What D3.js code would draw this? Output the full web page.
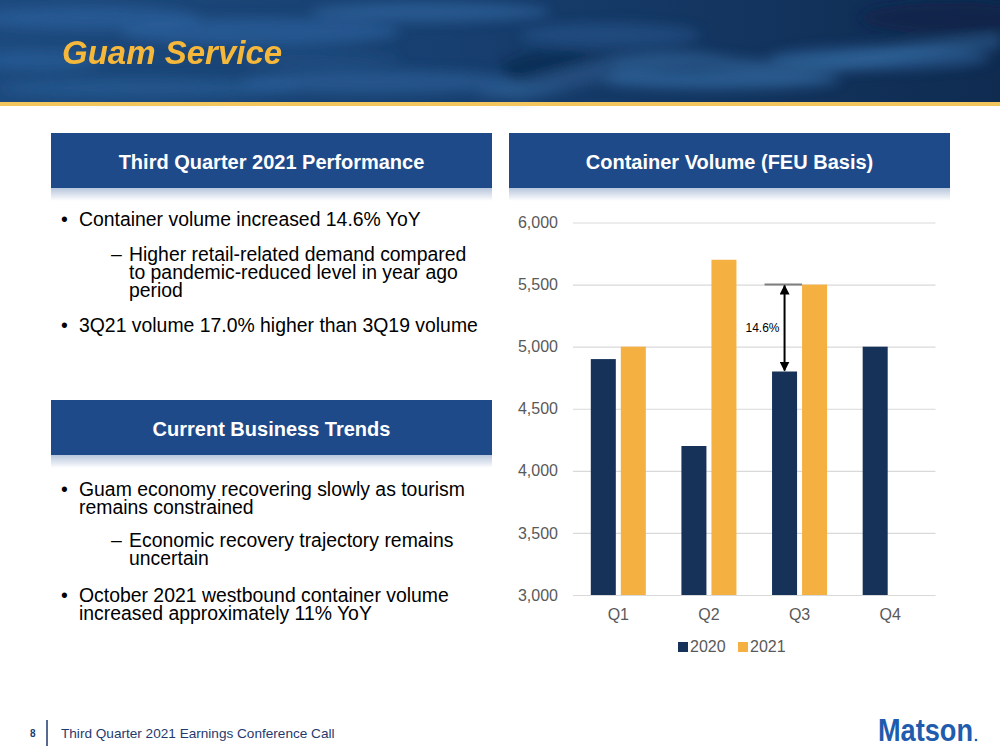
<!DOCTYPE html>
<html>
<head>
<meta charset="utf-8">
<script src="https://cdn.jsdelivr.net/npm/d3@7"></script>
<style>
  body { margin: 0; background: #fff; }
  svg { display: block; font-family: "Liberation Sans", Arial, sans-serif; }
</style>
</head>
<body>
<script>
// chart data
const quarters = ['Q1', 'Q2', 'Q3', 'Q4'];
const years = ['2020', '2021'];
const volume2020 = [4900, 4200, 4800, 5000];
const volume2021 = [5000, 5700, 5500, null];
const yTicks = [3000, 3500, 4000, 4500, 5000, 5500, 6000];
const growthLabel = '14.6%';   // Q3 2021 vs Q3 2020

// slide texts
const pageTitle = 'Guam Service';
const panelTitles = ['Third Quarter 2021 Performance', 'Container Volume (FEU Basis)', 'Current Business Trends'];
const perfLines = [
  { lvl: 0, lines: ['Container volume increased 14.6% YoY'] },
  { lvl: 1, lines: ['Higher retail-related demand compared', 'to pandemic-reduced level in year ago', 'period'] },
  { lvl: 0, lines: ['3Q21 volume 17.0% higher than 3Q19 volume'] }
];
const trendLines = [
  { lvl: 0, lines: ['Guam economy recovering slowly as tourism', 'remains constrained'] },
  { lvl: 1, lines: ['Economic recovery trajectory remains', 'uncertain'] },
  { lvl: 0, lines: ['October 2021 westbound container volume', 'increased approximately 11% YoY'] }
];

const colors = { '2020': '#163259', '2021': '#f5b042' };
const panelBlue = '#1f4a8a';

const svg = d3.select('body').append('svg')
  .attr('width', 1000)
  .attr('height', 750);

const defs = svg.append('defs');

/* header background */
const sea = defs.append('linearGradient').attr('id', 'sea').attr('x1', 0).attr('x2', 1).attr('y1', 0).attr('y2', 0);
sea.append('stop').attr('offset', 0).attr('stop-color', '#1d4a7e');
sea.append('stop').attr('offset', 0.45).attr('stop-color', '#173f6f');
sea.append('stop').attr('offset', 1).attr('stop-color', '#0f2b50');

defs.append('filter').attr('id', 'blur').attr('x', '-20%').attr('y', '-50%').attr('width', '140%').attr('height', '200%')
  .append('feGaussianBlur').attr('stdDeviation', 6);

const shade = defs.append('linearGradient').attr('id', 'shade').attr('x1', 0).attr('x2', 0).attr('y1', 0).attr('y2', 1);
shade.append('stop').attr('offset', 0).attr('stop-color', '#b7c6dc');
shade.append('stop').attr('offset', 1).attr('stop-color', '#ffffff');

const header = svg.append('g');
header.append('rect').attr('width', 1000).attr('height', 102).attr('fill', 'url(#sea)');
const ripples = header.append('g').attr('filter', 'url(#blur)');
[
  [90, 18, 110, 12, '#2d64a0', 0.6], [260, 32, 140, 14, '#2f68a6', 0.55],
  [430, 12, 120, 10, '#3570ad', 0.5], [610, 35, 90, 12, '#2c5f98', 0.45],
  [150, 88, 150, 10, '#2a5d96', 0.6], [380, 82, 140, 12, '#2d64a0', 0.55],
  [720, 80, 120, 9, '#3c78b4', 0.55], [880, 58, 110, 12, '#3069a6', 0.5],
  [560, 70, 60, 18, '#0c2444', 0.5], [950, 18, 90, 16, '#0b2242', 0.6],
  [40, 60, 60, 10, '#2f68a6', 0.45], [320, 60, 80, 8, '#245890', 0.4]
].forEach(([cx, cy, rx, ry, c, o]) => {
  ripples.append('ellipse').attr('cx', cx).attr('cy', cy).attr('rx', rx).attr('ry', ry)
    .attr('fill', c).attr('opacity', o);
});
ripples.append('path')
  .attr('d', 'M470,95 C560,70 640,40 720,55 C800,70 880,40 1000,35 L1000,48 C900,58 820,85 740,72 C660,60 600,85 520,100 Z')
  .attr('fill', '#3b74ae').attr('opacity', 0.45);
header.append('rect').attr('y', 102).attr('width', 1000).attr('height', 4).attr('fill', '#f3c55d');

header.append('text')
  .attr('x', 62).attr('y', 64)
  .attr('fill', '#f5b83a')
  .attr('font-size', 33)
  .attr('font-weight', 'bold')
  .attr('font-style', 'italic')
  .text(pageTitle);

/* panel headers */
const panels = [
  { x: 51, y: 133, title: panelTitles[0] },
  { x: 509, y: 133, title: panelTitles[1] },
  { x: 51, y: 400, title: panelTitles[2] }
];
const panelW = 441, panelH = 55;
panels.forEach(p => {
  const g = svg.append('g').attr('transform', `translate(${p.x},${p.y})`);
  g.append('rect').attr('y', panelH).attr('width', panelW).attr('height', 13).attr('fill', 'url(#shade)');
  g.append('rect').attr('width', panelW).attr('height', panelH).attr('fill', panelBlue);
  g.append('text')
    .attr('x', panelW / 2).attr('y', 35.5)
    .attr('text-anchor', 'middle')
    .attr('fill', '#fff')
    .attr('font-size', 20)
    .attr('font-weight', 'bold')
    .text(p.title);
});

/* bullet lists: first baseline of each item; wrapped lines are tspans of one text */
const lineGap = 18;
function bullets(items, starts) {
  const g = svg.append('g').attr('font-size', 19.4).attr('fill', '#000');
  items.forEach((item, i) => {
    const y = starts[i];
    const tx = item.lvl === 0 ? 79 : 129;
    g.append('text')
      .attr('x', item.lvl === 0 ? 61 : 111).attr('y', y)
      .text(item.lvl === 0 ? '•' : '–');
    const t = g.append('text').attr('x', tx).attr('y', y);
    item.lines.forEach((line, j) => {
      t.append('tspan').attr('x', tx).attr('dy', j === 0 ? 0 : lineGap).text(line);
    });
  });
}
bullets(perfLines, [226, 260.5, 332]);
bullets(trendLines, [496, 546.5, 601.5]);

/* bar chart */
const plot = { left: 573, right: 935.5, top: 222.5, bottom: 595 };

const x = d3.scaleBand()
  .domain(quarters)
  .range([plot.left, plot.right]);
const xSub = d3.scaleBand()
  .domain(years)
  .range([0, x.bandwidth()])
  .paddingInner(1 / 6)
  .paddingOuter(0.593);
const y = d3.scaleLinear()
  .domain([3000, 6000])
  .range([plot.bottom, plot.top]);

const chart = svg.append('g');

// gridlines
chart.append('g')
  .attr('transform', `translate(${plot.left},0)`)
  .call(d3.axisLeft(y).tickValues(yTicks).tickSize(-(plot.right - plot.left)).tickFormat(''))
  .call(g => g.select('.domain').remove())
  .call(g => g.selectAll('line').attr('stroke', '#d9d9d9').attr('stroke-width', 1.2));

// y labels
chart.append('g')
  .attr('transform', `translate(${plot.left},0)`)
  .call(d3.axisLeft(y).tickValues(yTicks).tickSize(0).tickPadding(15).tickFormat(d3.format(',')))
  .call(g => g.select('.domain').remove())
  .call(g => g.selectAll('text')
    .attr('fill', '#595959')
    .attr('font-size', 16)
    .attr('font-family', '"Liberation Sans", Arial, sans-serif'));

// x labels
chart.append('g')
  .attr('transform', `translate(0,${plot.bottom})`)
  .call(d3.axisBottom(x).tickSize(0).tickPadding(14))
  .call(g => g.select('.domain').remove())
  .call(g => g.selectAll('text')
    .attr('fill', '#595959')
    .attr('font-size', 16)
    .attr('font-family', '"Liberation Sans", Arial, sans-serif'));

const barData = [];
quarters.forEach((q, i) => {
  if (volume2020[i] != null) barData.push({ q, year: '2020', v: volume2020[i] });
  if (volume2021[i] != null) barData.push({ q, year: '2021', v: volume2021[i] });
});

chart.append('g')
  .selectAll('rect')
  .data(barData)
  .join('rect')
  .attr('x', d => x(d.q) + xSub(d.year))
  .attr('y', d => y(d.v))
  .attr('width', xSub.bandwidth())
  .attr('height', d => y(3000) - y(d.v))
  .attr('fill', d => colors[d.year]);

// growth annotation on Q3
const q3 = quarters.indexOf('Q3');
const arrowX = x('Q3') + xSub('2020') + xSub.bandwidth() / 2;
const yNew = y(volume2021[q3]), yOld = y(volume2020[q3]);

defs.append('marker')
  .attr('id', 'head')
  .attr('viewBox', '0 0 10 10')
  .attr('refX', 9).attr('refY', 5)
  .attr('markerWidth', 5).attr('markerHeight', 5)
  .attr('orient', 'auto-start-reverse')
  .append('path')
  .attr('d', 'M0,0 L10,5 L0,10 Z')
  .attr('fill', '#000');

chart.append('line')
  .attr('x1', arrowX - 20).attr('x2', x('Q3') + xSub('2021'))
  .attr('y1', yNew).attr('y2', yNew)
  .attr('stroke', '#7f7f7f').attr('stroke-width', 2);

chart.append('line')
  .attr('x1', arrowX).attr('x2', arrowX)
  .attr('y1', yNew + 1).attr('y2', yOld - 1)
  .attr('stroke', '#000').attr('stroke-width', 2)
  .attr('marker-start', 'url(#head)')
  .attr('marker-end', 'url(#head)');

chart.append('text')
  .attr('x', arrowX - 5).attr('y', (yNew + yOld) / 2 + 4)
  .attr('text-anchor', 'end')
  .attr('font-size', 12)
  .attr('fill', '#000')
  .text(growthLabel);

// legend
const legend = chart.append('g').attr('transform', 'translate(678,642)');
const lx = [0, 60];
years.forEach((yr, i) => {
  legend.append('rect').attr('x', lx[i]).attr('width', 10).attr('height', 10).attr('fill', colors[yr]);
  legend.append('text')
    .attr('x', lx[i] + 12).attr('y', 10)
    .attr('font-size', 16)
    .attr('fill', '#595959')
    .text(yr);
});

/* footer */
const footer = svg.append('g');
footer.append('text').attr('x', 30).attr('y', 737).attr('font-size', 10).attr('font-weight', 'bold').attr('fill', '#1f3a6e').text('8');
footer.append('line').attr('x1', 47).attr('x2', 47).attr('y1', 720).attr('y2', 746).attr('stroke', '#1f3a6e').attr('stroke-width', 1.5);
footer.append('text').attr('x', 61).attr('y', 738).attr('font-size', 13.6).attr('fill', '#1f3a6e').text('Third Quarter 2021 Earnings Conference Call');
footer.append('text')
  .attr('x', 878).attr('y', 741)
  .attr('font-size', 32)
  .attr('font-weight', 'bold')
  .attr('fill', '#1f5cae')
  .attr('textLength', 95)
  .attr('lengthAdjust', 'spacingAndGlyphs')
  .text('Matson');
footer.append('circle').attr('cx', 976).attr('cy', 740).attr('r', 1.3).attr('fill', '#1f5cae');
</script>
</body>
</html>
